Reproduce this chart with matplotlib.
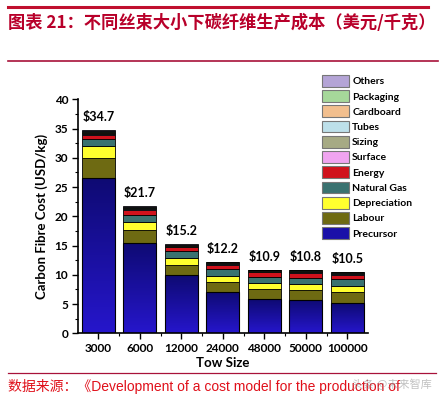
import numpy as np
import matplotlib
matplotlib.use('Agg')
import matplotlib.pyplot as plt
from matplotlib.colors import LinearSegmentedColormap
from matplotlib.patches import Patch
from matplotlib.lines import Line2D

plt.rcParams['font.family'] = ['Noto Sans CJK SC', 'DejaVu Sans']

# 数据
tow_sizes = ['3000', '6000', '12000', '24000', '48000', '50000', '100000']
totals = [34.7, 21.7, 15.2, 12.2, 10.9, 10.8, 10.5]

precursor = [26.6, 15.5, 9.9, 7.1, 5.8, 5.7, 5.1]
labour = [3.4, 2.2, 1.8, 1.7, 1.7, 1.7, 2.0]
depreciation = [2.1, 1.4, 1.1, 1.0, 1.05, 1.0, 1.05]
natural_gas = [1.1, 1.2, 1.2, 1.2, 1.15, 1.1, 1.15]
energy = [0.7, 0.8, 0.7, 0.7, 0.7, 0.8, 0.7]
surface = [0.15, 0.1, 0.1, 0.1, 0.1, 0.1, 0.1]
sizing = [0.15, 0.1, 0.1, 0.1, 0.1, 0.1, 0.1]
tubes = [0.1, 0.1, 0.05, 0.05, 0.05, 0.05, 0.05]
cardboard = [0.15, 0.1, 0.1, 0.1, 0.1, 0.1, 0.1]
packaging = [0.15, 0.1, 0.1, 0.1, 0.1, 0.1, 0.1]
others = [0.1, 0.1, 0.05, 0.05, 0.05, 0.05, 0.05]

layers = [
    ('Precursor', precursor, '#1A10A8'),
    ('Labour', labour, '#6E6A12'),
    ('Depreciation', depreciation, '#FFFF2E'),
    ('Natural Gas', natural_gas, '#3A7270'),
    ('Energy', energy, '#D0121C'),
    ('Surface', surface, '#F0A4F0'),
    ('Sizing', sizing, '#A6AA84'),
    ('Tubes', tubes, '#BDE0EA'),
    ('Cardboard', cardboard, '#F2BF8E'),
    ('Packaging', packaging, '#A6D89A'),
    ('Others', others, '#B4A4D6'),
]

LATIN = 'Lato'

fig = plt.figure(figsize=(4.46, 3.98), dpi=100)

# 页眉页脚装饰线
fig.add_artist(Line2D([8 / 446, 428 / 446], [1 - 6.5 / 398] * 2, color='#C0102E', lw=2.2))
fig.add_artist(Line2D([8 / 446, 438 / 446], [1 - 60.5 / 398] * 2, color='#A8123A', lw=1.2))
fig.add_artist(Line2D([8 / 446, 436 / 446], [1 - 373 / 398] * 2, color='#A8123A', lw=0.9))

fig.text(8 / 446, 1 - 23 / 398, '图表 21：不同丝束大小下碳纤维生产成本（美元/千克）',
         fontsize=12.4, fontweight='bold', color='#B8002A', va='center', ha='left')
fig.text(8 / 446, 1 - 387 / 398, '数据来源：《Development of a cost model for the production of',
         fontsize=10, color='#E0101A', va='center', ha='left',
         family=['Liberation Sans', 'Noto Sans CJK SC'])
fig.text(432 / 446, 1 - 384 / 398, '头条 @未来智库', fontsize=8, color='#999999',
         alpha=0.6, va='center', ha='right')

ax = fig.add_axes([78 / 446, 1 - 333.3 / 398, 290 / 446, 234 / 398])

x = np.arange(len(tow_sizes))
width = 0.8
bottom = np.zeros(len(tow_sizes))
bars_by_layer = {}
for name, vals, color in layers:
    bars = ax.bar(x, vals, width, bottom=bottom, color=color,
                  edgecolor='black', linewidth=0.6, zorder=2)
    bars_by_layer[name] = bars
    bottom = bottom + np.array(vals)

# 前驱体段的渐变填充
cmap = LinearSegmentedColormap.from_list('prec', ['#2616CC', '#0E0A72'])
grad = np.linspace(0, 1, 256).reshape(-1, 1)
for bar in bars_by_layer['Precursor']:
    x0 = bar.get_x()
    h = bar.get_height()
    im = ax.imshow(grad, extent=[x0, x0 + bar.get_width(), 0, h], origin='lower',
                   aspect='auto', cmap=cmap, zorder=2.1)
    im.set_clip_path(bar)
    ax.bar(bar.get_x() + bar.get_width() / 2, h, width, fill=False,
           edgecolor='black', linewidth=0.8, zorder=2.2)

# 总成本标注
for xi, tot in zip(x, totals):
    ax.text(xi, tot + 1.2, f'${tot}', ha='center', va='bottom',
            fontsize=9, fontweight='bold', family=LATIN)

ax.set_xlim(-0.49, 6.5)
ax.set_ylim(0, 40)
ax.set_yticks(np.arange(0, 41, 5))
ax.set_yticks(np.arange(0, 40, 2.5), minor=True)
ax.set_xticks(x)
ax.set_xticks(x[:-1] + 0.5, minor=True)
ax.set_xticklabels(tow_sizes)

for sp in ['top', 'right']:
    ax.spines[sp].set_visible(False)
for sp in ['left', 'bottom']:
    ax.spines[sp].set_linewidth(1.2)

ax.tick_params(axis='both', which='major', direction='out', length=4, width=1,
               labelsize=8.5, pad=3)
ax.tick_params(axis='both', which='minor', direction='out', length=2, width=0.8)
for lab in ax.get_xticklabels() + ax.get_yticklabels():
    lab.set_fontweight('bold')
    lab.set_family(LATIN)

ax.set_ylabel('Carbon Fibre Cost (USD/kg)', fontsize=9.5, fontweight='bold',
              family=LATIN, labelpad=5)
ax.set_xlabel('Tow Size', fontsize=9.5, fontweight='bold', family=LATIN, labelpad=2)

# 图例（Others 在上，Precursor 在下）
handles = [Patch(facecolor=c, edgecolor='#777777', linewidth=0.8, label=n)
           for n, _, c in layers[::-1]]
leg = fig.legend(handles=handles, loc='upper left',
                 bbox_to_anchor=(322 / 446, 1 - 75 / 398),
                 frameon=False, fontsize=7.5, handlelength=2.6, handleheight=1.35,
                 labelspacing=0.34, handletextpad=0.3, borderaxespad=0, borderpad=0)
for t in leg.get_texts():
    t.set_fontweight('bold')
    t.set_family(LATIN)

fig.savefig('out.png', dpi=100)
